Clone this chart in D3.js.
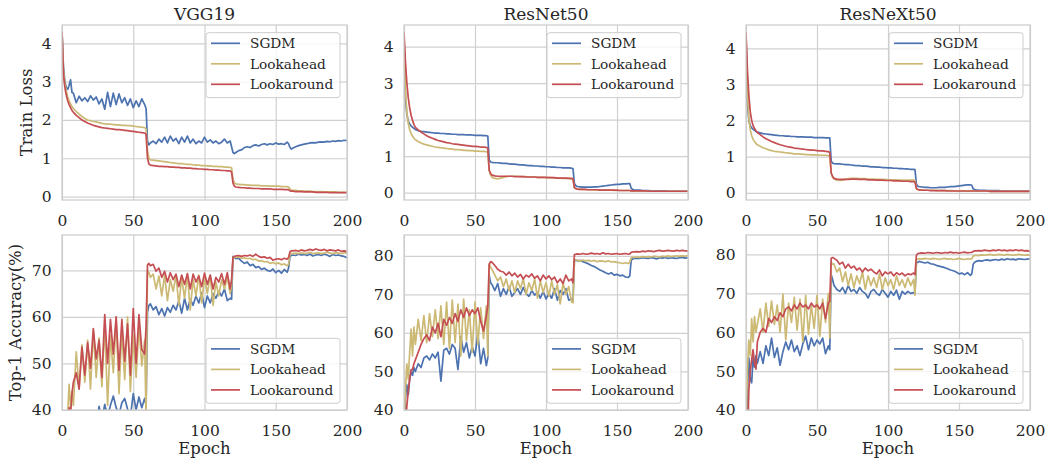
<!DOCTYPE html>
<html>
<head>
<meta charset="utf-8">
<script src="https://cdn.jsdelivr.net/npm/d3@7"></script>
<style>
  body { margin: 0; background: #fff; }
  svg { font-family: "DejaVu Serif", serif; }
</style>
</head>
<body>
<svg id="chart" width="1050" height="465"></svg>
<script>
const EPOCHS = [0,1,2,3,4,5,6,7,8,
  10,12,14,16,18,20,22,24,26,28,30,32,34,36,38,40,42,44,46,48,50,52,54,56,58,
  59,60,61,
  62,64,66,68,70,72,74,76,78,80,82,84,86,88,90,92,94,96,98,100,102,104,106,108,110,112,114,116,118,
  119,120,121,
  122,124,126,128,130,132,134,136,138,140,142,144,146,148,150,152,154,156,158,
  159,160,161,
  162,164,166,168,170,172,174,176,178,180,182,184,186,188,190,192,194,196,198,200];

const SERIES_NAMES = ["SGDM", "Lookahead", "Lookaround"];
const TITLES = ["VGG19", "ResNet50", "ResNeXt50"];
const X_TICKS = [0, 50, 100, 150, 200];
const LOSS_TICKS = [0, 1, 2, 3, 4];
const ACC_TICKS_VGG = [40, 50, 60, 70];
const ACC_TICKS = [40, 50, 60, 70, 80];

// ---- train loss ----
const vggLossSgdm = [4.30,3.40,3.00,2.85,2.80,2.90,3.05,2.72,2.70,
  2.45,2.62,2.50,2.58,2.48,2.63,2.52,2.60,2.42,2.55,2.28,2.72,2.35,2.70,2.40,2.68,2.45,2.58,2.38,2.55,2.32,2.50,2.35,2.55,2.40,
  2.30,1.45,1.35,
  1.40,1.45,1.38,1.50,1.42,1.55,1.40,1.58,1.45,1.52,1.38,1.55,1.42,1.58,1.40,1.50,1.38,1.45,1.40,1.55,1.42,1.48,1.40,1.45,1.38,1.42,1.50,1.40,1.45,
  1.30,1.15,1.12,
  1.15,1.20,1.22,1.28,1.30,1.28,1.33,1.35,1.32,1.36,1.38,1.35,1.38,1.36,1.40,1.37,1.38,1.36,1.42,
  1.38,1.28,1.24,
  1.27,1.30,1.33,1.35,1.37,1.38,1.40,1.41,1.40,1.42,1.43,1.42,1.44,1.43,1.45,1.44,1.46,1.45,1.47,1.46];
const vggLossLookahead = [4.30,3.30,2.95,2.75,2.60,2.50,2.42,2.35,2.30,
  2.22,2.15,2.09,2.04,2.00,1.98,1.96,1.95,1.93,1.91,1.90,1.89,1.89,1.88,1.87,1.87,1.86,1.86,1.85,1.85,1.84,1.83,1.82,1.81,1.80,
  1.76,1.20,1.00,
  0.96,0.95,0.94,0.93,0.92,0.91,0.90,0.89,0.88,0.87,0.86,0.86,0.85,0.84,0.84,0.83,0.82,0.82,0.81,0.81,0.80,0.80,0.79,0.79,0.78,0.78,0.77,0.77,0.76,
  0.75,0.45,0.36,
  0.33,0.32,0.31,0.31,0.30,0.30,0.29,0.29,0.29,0.28,0.28,0.28,0.27,0.27,0.27,0.27,0.26,0.26,0.26,
  0.25,0.20,0.17,
  0.16,0.16,0.15,0.15,0.14,0.14,0.14,0.13,0.13,0.13,0.13,0.12,0.12,0.12,0.12,0.12,0.11,0.11,0.11,0.11];
const vggLossLookaround = [4.30,3.20,2.85,2.65,2.50,2.40,2.32,2.25,2.20,
  2.12,2.06,2.00,1.96,1.92,1.89,1.86,1.84,1.82,1.80,1.79,1.78,1.77,1.76,1.75,1.75,1.74,1.73,1.72,1.71,1.70,1.69,1.68,1.67,1.66,
  1.62,1.00,0.85,
  0.82,0.81,0.80,0.79,0.79,0.78,0.78,0.77,0.77,0.76,0.76,0.75,0.75,0.74,0.74,0.73,0.73,0.72,0.72,0.71,0.71,0.70,0.70,0.69,0.69,0.68,0.68,0.67,0.67,
  0.64,0.35,0.27,
  0.25,0.24,0.23,0.23,0.22,0.22,0.21,0.21,0.21,0.20,0.20,0.20,0.20,0.19,0.19,0.19,0.19,0.18,0.18,
  0.18,0.15,0.14,
  0.14,0.13,0.13,0.13,0.12,0.12,0.12,0.12,0.11,0.11,0.11,0.11,0.11,0.10,0.10,0.10,0.10,0.10,0.10,0.10];

const resnetLossSgdm = [4.30,2.60,2.15,1.95,1.88,1.83,1.79,1.76,1.73,
  1.70,1.68,1.67,1.66,1.65,1.64,1.63,1.63,1.62,1.62,1.61,1.61,1.60,1.60,1.59,1.59,1.59,1.58,1.58,1.58,1.57,1.57,1.57,1.56,1.56,
  1.55,0.90,0.84,
  0.83,0.82,0.82,0.81,0.80,0.80,0.79,0.78,0.78,0.77,0.76,0.76,0.75,0.74,0.74,0.73,0.73,0.72,0.72,0.71,0.71,0.70,0.70,0.69,0.69,0.68,0.68,0.68,0.67,
  0.66,0.25,0.19,
  0.17,0.16,0.15,0.15,0.15,0.15,0.16,0.16,0.17,0.18,0.19,0.20,0.21,0.22,0.23,0.23,0.24,0.24,0.25,
  0.25,0.12,0.09,
  0.08,0.07,0.07,0.06,0.06,0.06,0.05,0.05,0.05,0.05,0.05,0.05,0.04,0.04,0.04,0.04,0.04,0.04,0.04,0.04];
const resnetLossLookahead = [4.30,2.80,2.20,1.90,1.72,1.62,1.55,1.49,1.45,
  1.40,1.36,1.33,1.31,1.29,1.27,1.25,1.24,1.23,1.22,1.21,1.20,1.19,1.18,1.18,1.17,1.16,1.16,1.15,1.15,1.14,1.14,1.13,1.13,1.12,
  1.10,0.60,0.48,
  0.42,0.39,0.38,0.40,0.42,0.44,0.45,0.45,0.45,0.45,0.44,0.44,0.44,0.43,0.43,0.43,0.42,0.42,0.42,0.41,0.41,0.41,0.40,0.40,0.40,0.39,0.39,0.39,0.38,
  0.37,0.14,0.11,
  0.10,0.09,0.09,0.08,0.08,0.08,0.08,0.07,0.07,0.07,0.07,0.07,0.07,0.06,0.06,0.06,0.06,0.06,0.06,
  0.06,0.05,0.05,
  0.05,0.05,0.05,0.05,0.05,0.04,0.04,0.04,0.04,0.04,0.04,0.04,0.04,0.04,0.04,0.04,0.04,0.04,0.04,0.04];
const resnetLossLookaround = [4.40,3.60,3.00,2.60,2.32,2.12,1.98,1.87,1.79,
  1.72,1.66,1.61,1.56,1.52,1.49,1.46,1.43,1.41,1.39,1.37,1.36,1.34,1.33,1.32,1.31,1.30,1.29,1.28,1.27,1.27,1.26,1.25,1.25,1.24,
  1.22,0.62,0.52,
  0.48,0.46,0.45,0.45,0.45,0.45,0.45,0.45,0.44,0.44,0.44,0.44,0.43,0.43,0.43,0.43,0.42,0.42,0.42,0.42,0.41,0.41,0.41,0.40,0.40,0.40,0.40,0.39,0.39,
  0.38,0.14,0.11,
  0.10,0.09,0.09,0.09,0.08,0.08,0.08,0.08,0.07,0.07,0.07,0.07,0.07,0.07,0.07,0.06,0.06,0.06,0.06,
  0.06,0.05,0.05,
  0.05,0.05,0.05,0.05,0.05,0.04,0.04,0.04,0.04,0.04,0.04,0.04,0.04,0.04,0.04,0.04,0.04,0.04,0.04,0.04];

const resnextLossSgdm = [4.40,2.50,2.00,1.86,1.80,1.76,1.73,1.70,1.68,
  1.66,1.64,1.63,1.62,1.61,1.60,1.59,1.58,1.58,1.57,1.57,1.56,1.56,1.55,1.55,1.55,1.54,1.54,1.54,1.53,1.53,1.53,1.53,1.52,1.52,
  1.52,0.88,0.82,
  0.81,0.80,0.80,0.79,0.78,0.78,0.77,0.76,0.75,0.75,0.74,0.74,0.73,0.72,0.72,0.71,0.71,0.70,0.70,0.69,0.69,0.68,0.68,0.67,0.67,0.66,0.66,0.65,0.65,
  0.64,0.24,0.18,
  0.17,0.16,0.15,0.15,0.14,0.14,0.14,0.15,0.15,0.15,0.16,0.17,0.17,0.18,0.19,0.20,0.21,0.22,0.22,
  0.21,0.11,0.09,
  0.08,0.07,0.07,0.07,0.06,0.06,0.06,0.06,0.06,0.05,0.05,0.05,0.05,0.05,0.05,0.05,0.05,0.05,0.05,0.05];
const resnextLossLookahead = [4.40,2.70,2.05,1.75,1.58,1.48,1.42,1.37,1.33,
  1.29,1.25,1.22,1.19,1.17,1.15,1.14,1.13,1.12,1.11,1.10,1.09,1.08,1.08,1.07,1.07,1.06,1.06,1.05,1.05,1.05,1.04,1.04,1.04,1.03,
  1.02,0.55,0.43,
  0.38,0.35,0.34,0.35,0.37,0.39,0.40,0.40,0.40,0.39,0.39,0.39,0.38,0.38,0.38,0.37,0.37,0.37,0.37,0.36,0.36,0.36,0.36,0.35,0.35,0.35,0.35,0.35,0.35,
  0.34,0.12,0.09,
  0.08,0.08,0.07,0.07,0.07,0.07,0.06,0.06,0.06,0.06,0.06,0.06,0.06,0.05,0.05,0.05,0.05,0.05,0.05,
  0.05,0.05,0.05,
  0.05,0.05,0.05,0.05,0.05,0.04,0.04,0.04,0.04,0.04,0.04,0.04,0.04,0.04,0.04,0.04,0.04,0.04,0.04,0.04];
const resnextLossLookaround = [4.45,3.40,2.70,2.25,2.00,1.86,1.78,1.72,1.67,
  1.61,1.55,1.50,1.46,1.42,1.39,1.36,1.33,1.31,1.29,1.27,1.26,1.24,1.23,1.22,1.21,1.20,1.19,1.18,1.18,1.17,1.16,1.16,1.15,1.14,
  1.12,0.55,0.45,
  0.40,0.38,0.37,0.37,0.37,0.37,0.38,0.38,0.38,0.37,0.37,0.37,0.36,0.36,0.36,0.35,0.35,0.35,0.34,0.34,0.34,0.33,0.33,0.33,0.32,0.32,0.32,0.31,0.31,
  0.30,0.12,0.09,
  0.08,0.07,0.07,0.07,0.06,0.06,0.06,0.06,0.06,0.06,0.05,0.05,0.05,0.05,0.05,0.05,0.05,0.05,0.05,
  0.05,0.05,0.05,
  0.05,0.05,0.05,0.05,0.05,0.04,0.04,0.04,0.04,0.04,0.04,0.04,0.04,0.04,0.04,0.04,0.04,0.04,0.04,0.04];

// ---- top-1 accuracy (%) ----
const vggAccSgdm = [10.0,15.0,18.0,20.0,22.0,23.5,25.0,26.0,27.0,
  29.0,31.0,32.0,33.0,35.0,34.0,37.0,36.0,40.8,38.0,41.2,38.5,41.0,43.0,40.5,39.0,41.5,42.5,40.2,38.5,43.5,40.0,42.8,40.5,42.5,
  41.0,61.0,62.5,
  62.8,61.5,62.2,60.5,61.8,60.2,62.0,61.0,62.5,61.5,63.5,60.8,64.0,61.5,63.8,62.5,64.5,63.0,65.2,62.0,64.5,63.0,65.0,64.0,65.5,64.5,66.0,63.5,64.0,
  63.8,73.0,72.8,
  72.5,72.6,72.0,71.5,71.8,71.0,71.3,70.6,70.8,70.2,70.5,70.0,69.8,70.3,69.5,70.0,69.4,70.2,69.6,
  70.5,73.0,73.2,
  73.3,73.2,73.5,73.3,73.4,73.2,73.5,73.1,73.3,73.4,73.2,73.5,73.3,73.0,73.4,73.2,73.3,73.1,73.0,72.7];
const vggAccLookahead = [25.0,30.0,34.0,37.0,39.5,45.5,40.5,44.0,41.0,
  52.5,44.5,54.0,46.0,55.0,44.5,57.0,47.0,55.5,45.0,58.5,41.0,56.0,48.0,59.5,43.5,57.0,46.5,60.0,44.0,56.0,47.0,58.0,49.5,55.0,
  38.0,70.0,69.5,
  68.5,69.2,66.0,68.8,64.5,69.0,63.5,68.0,65.5,69.0,62.5,68.5,64.0,69.2,61.5,68.0,64.5,69.0,63.0,68.5,65.0,69.0,62.5,67.5,64.5,68.0,66.0,68.5,65.0,
  66.5,72.8,72.9,
  72.8,72.9,72.6,72.7,72.5,72.6,72.3,72.4,72.0,72.1,71.8,71.9,71.5,71.7,71.4,71.6,71.2,71.4,71.0,
  71.3,73.5,73.6,
  73.6,73.7,73.6,73.8,73.6,73.7,73.9,73.6,73.7,73.8,73.6,73.7,73.9,73.7,73.6,73.8,73.7,73.6,73.8,73.7];
const vggAccLookaround = [20.0,27.0,32.0,36.0,38.0,40.5,39.0,43.5,46.0,
  48.0,44.5,53.5,47.5,54.5,49.0,57.5,51.0,55.0,47.0,60.5,50.0,59.5,52.0,60.0,48.5,59.5,50.5,58.5,47.5,61.8,50.0,60.5,53.0,52.0,
  58.0,71.2,71.5,
  71.0,71.3,69.8,70.5,68.5,69.8,67.5,69.5,68.0,69.2,66.5,69.0,67.0,69.3,66.0,69.2,67.5,68.8,66.5,69.4,67.0,69.0,66.0,68.5,67.5,69.3,67.0,69.5,66.0,
  68.0,72.8,73.0,
  73.1,73.2,73.0,73.2,73.1,73.3,73.0,73.5,73.0,72.8,72.9,72.6,72.8,72.2,72.4,72.5,72.3,72.6,72.4,
  72.8,74.0,74.2,
  74.2,74.3,74.1,74.4,74.2,74.3,74.5,74.3,74.6,74.4,74.3,74.5,74.2,74.4,74.3,74.2,74.4,74.1,74.2,74.0];

const resnetAccSgdm = [30.0,43.0,46.5,44.0,48.0,50.0,49.0,51.0,50.0,
  52.0,51.0,53.5,54.0,53.0,54.5,53.5,55.0,47.5,55.5,56.0,54.5,57.0,56.0,50.5,59.0,55.0,57.5,53.5,56.5,54.0,60.0,52.0,56.0,51.5,
  53.5,75.0,73.0,
  72.5,71.0,72.8,69.5,71.5,70.0,72.0,69.5,70.5,71.5,70.0,71.8,70.2,69.5,71.0,69.8,70.5,69.0,70.8,68.8,70.2,69.0,71.5,68.5,71.0,70.0,71.5,68.5,68.8,
  68.2,78.8,78.9,
  78.7,78.8,78.5,78.2,77.9,77.5,77.2,76.8,76.3,76.0,75.6,75.3,75.6,75.0,75.2,74.8,75.0,74.5,74.4,
  74.8,78.8,79.2,
  79.3,79.4,79.3,79.5,79.4,79.3,79.5,79.4,79.2,79.5,79.4,79.6,79.3,79.5,79.4,79.3,79.5,79.6,79.4,79.5];
const resnetAccLookahead = [35.0,45.0,52.0,48.0,55.0,61.0,54.0,61.5,57.0,
  63.5,58.0,64.5,57.5,65.0,59.0,66.0,58.5,67.0,57.0,68.0,56.0,68.5,57.5,67.5,54.0,68.8,58.0,66.0,55.0,68.0,57.0,66.5,58.5,67.0,
  54.0,78.0,77.0,
  76.5,75.0,73.5,74.5,72.0,74.0,71.0,73.5,70.5,73.5,71.5,74.0,70.0,73.0,71.0,74.0,69.0,73.5,70.5,73.0,69.5,73.5,70.0,72.5,67.5,73.0,70.0,72.0,68.0,
  67.8,78.7,78.8,
  78.8,78.7,78.9,78.7,78.8,78.6,78.8,78.5,78.7,78.6,78.5,78.7,78.4,78.5,78.3,78.2,78.0,78.2,78.0,
  78.3,79.5,79.6,
  79.6,79.7,79.6,79.8,79.7,79.8,79.7,79.9,79.8,79.7,79.9,79.8,80.0,79.8,79.9,80.0,79.9,80.0,79.9,80.1];
const resnetAccLookaround = [25.0,35.0,41.0,45.0,48.0,50.5,50.5,52.0,53.0,
  55.0,57.0,58.5,59.5,58.0,61.5,60.0,62.5,59.0,63.5,62.0,64.0,62.5,65.0,63.0,66.0,64.0,66.5,64.5,66.0,65.0,66.5,63.0,60.5,64.5,
  67.0,77.8,78.5,
  78.3,77.5,76.5,76.0,75.8,75.0,75.8,74.8,75.5,74.5,75.2,74.0,75.0,74.5,75.3,74.2,74.8,73.5,75.0,74.0,74.8,73.8,74.5,73.0,74.0,72.8,75.0,73.5,74.0,
  73.0,80.3,80.4,
  80.5,80.4,80.6,80.4,80.5,80.7,80.5,80.6,80.4,80.8,80.5,80.6,80.4,80.5,80.6,80.4,80.5,80.6,80.4,
  80.5,80.9,81.0,
  81.0,81.1,81.0,81.2,81.1,81.3,81.2,81.1,81.3,81.4,81.2,81.3,81.4,81.3,81.2,81.4,81.3,81.4,81.3,81.2];

const resnextAccSgdm = [30.0,45.0,53.5,48.0,47.0,53.5,51.0,54.0,52.0,
  55.0,52.0,56.5,54.0,58.5,53.5,56.0,51.5,55.0,57.5,55.5,58.0,55.0,56.5,54.0,57.0,59.0,55.5,58.5,56.5,58.0,57.0,58.5,54.5,56.5,
  55.5,74.8,73.5,
  72.0,71.0,70.5,71.5,70.0,72.0,70.5,71.0,70.0,71.5,70.5,70.0,68.8,70.5,71.0,70.0,69.5,71.0,70.0,69.0,70.5,69.5,70.8,68.5,70.5,69.8,70.5,70.0,70.2,
  70.0,77.8,78.0,
  78.2,78.0,77.8,78.0,77.6,77.5,77.2,77.0,76.8,76.6,76.3,76.0,75.8,75.5,75.0,75.2,74.8,75.3,74.6,
  75.0,77.5,78.0,
  78.2,78.4,78.3,78.5,78.6,78.4,78.6,78.7,78.5,78.8,78.6,78.9,78.7,78.8,78.6,78.9,78.8,78.7,78.8,78.9];
const resnextAccLookahead = [35.0,50.0,58.0,54.0,63.5,57.5,64.0,60.0,62.0,
  66.0,60.0,67.5,61.5,68.0,62.0,67.0,60.0,69.8,58.0,67.5,62.5,69.0,60.5,68.5,57.5,69.5,59.5,67.0,61.0,69.5,59.0,68.5,62.5,70.0,
  58.5,78.0,77.5,
  77.5,75.5,76.5,73.0,75.5,72.0,75.0,71.5,74.5,72.5,75.5,71.0,74.5,72.0,74.0,71.5,75.0,71.0,74.0,72.0,73.5,71.0,74.5,72.0,73.5,71.5,74.0,72.0,73.5,
  69.5,78.6,78.8,
  78.9,78.8,79.0,78.9,78.8,79.0,78.9,78.7,78.9,79.0,78.8,78.9,78.7,78.8,79.0,78.8,78.7,78.9,78.8,
  78.9,79.6,79.7,
  79.8,79.7,79.9,79.8,79.9,80.0,79.8,79.9,80.0,79.9,79.8,80.0,79.9,79.8,79.9,80.0,79.9,79.8,79.9,79.8];
const resnextAccLookaround = [20.0,30.0,45.0,50.0,53.0,55.5,52.0,50.5,57.5,
  60.0,61.0,60.0,63.5,62.5,64.0,63.0,65.0,64.0,66.0,66.5,65.5,67.0,66.0,67.5,66.5,67.0,66.0,67.5,66.5,67.0,66.0,67.5,63.5,67.5,
  68.0,79.0,79.2,
  79.0,78.5,77.5,78.0,76.5,77.5,76.5,77.0,76.0,76.5,75.5,76.5,75.8,76.2,75.5,75.0,76.0,74.5,75.5,75.0,75.5,74.5,75.3,74.8,75.2,74.5,75.0,74.8,75.2,
  74.8,79.8,80.2,
  80.3,80.4,80.3,80.5,80.4,80.3,80.5,80.4,80.3,80.5,80.4,80.6,80.4,80.5,80.3,80.5,80.6,80.4,80.5,
  80.5,80.8,80.9,
  80.9,81.0,80.9,81.1,81.0,80.9,81.1,81.0,81.2,81.0,81.1,80.9,81.1,81.0,81.2,81.0,81.1,80.9,81.0,80.8];

const COLORS = ["#4c72b0", "#ccb974", "#c44e52"];

// layout
const colX = [[62, 347], [404, 688], [746, 1030]];
const rowY = [[25, 200], [235, 410]];

const panels = [
  {row: 0, col: 0, dom: [-0.09, 4.48], ticks: LOSS_TICKS, series: [vggLossSgdm, vggLossLookahead, vggLossLookaround], legend: "top"},
  {row: 0, col: 1, dom: [-0.2, 4.59], ticks: LOSS_TICKS, series: [resnetLossSgdm, resnetLossLookahead, resnetLossLookaround], legend: "top"},
  {row: 0, col: 2, dom: [-0.2, 4.65], ticks: LOSS_TICKS, series: [resnextLossSgdm, resnextLossLookahead, resnextLossLookaround], legend: "top"},
  {row: 1, col: 0, dom: [40, 77.6], ticks: ACC_TICKS_VGG, series: [vggAccSgdm, vggAccLookahead, vggAccLookaround], legend: "bottom"},
  {row: 1, col: 1, dom: [40, 85.4], ticks: ACC_TICKS, series: [resnetAccSgdm, resnetAccLookahead, resnetAccLookaround], legend: "bottom"},
  {row: 1, col: 2, dom: [40, 85], ticks: ACC_TICKS, series: [resnextAccSgdm, resnextAccLookahead, resnextAccLookaround], legend: "bottom"}
];

const svg = d3.select("#chart");
const grid = "#d0d0d0";
const ink = "#262626";

panels.forEach((p, i) => {
  const [x0, x1] = colX[p.col];
  const [y0, y1] = rowY[p.row];
  const x = d3.scaleLinear().domain([0, 200]).range([x0, x1]);
  const y = d3.scaleLinear().domain(p.dom).range([y1, y0]);
  const g = svg.append("g");

  p.series.forEach((s, k) => {
    if (s.length !== EPOCHS.length) console.error("length mismatch", i, k, s.length);
  });

  // x grid + labels
  const xa = g.append("g")
    .attr("transform", "translate(0," + y1 + ")")
    .call(d3.axisBottom(x).tickValues(X_TICKS).tickSize(-(y1 - y0)).tickPadding(15).tickFormat(d3.format("d")));
  // y grid + labels
  const ya = g.append("g")
    .attr("transform", "translate(" + x0 + ",0)")
    .call(d3.axisLeft(y).tickValues(p.ticks).tickSize(-(x1 - x0)).tickPadding(10.5).tickFormat(d3.format("d")));

  [xa, ya].forEach(a => {
    a.select(".domain").remove();
    a.selectAll(".tick line").attr("stroke", grid).attr("stroke-width", 1.2);
    a.selectAll(".tick text").attr("fill", ink).style("font-size", "15.5px").style("font-family", "DejaVu Serif");
  });

  // data lines, clipped to the axes box
  const clipId = "clip" + i;
  svg.append("clipPath").attr("id", clipId)
    .append("rect").attr("x", x0).attr("y", y0).attr("width", x1 - x0).attr("height", y1 - y0);

  const line = d3.line().x(d => x(d[0])).y(d => y(d[1]));
  const lines = g.append("g").attr("clip-path", "url(#" + clipId + ")");
  p.series.forEach((s, k) => {
    lines.append("path")
      .datum(d3.zip(EPOCHS, s))
      .attr("d", line)
      .attr("fill", "none")
      .attr("stroke", COLORS[k])
      .attr("stroke-width", 1.7)
      .attr("stroke-linejoin", "round");
  });

  // frame
  g.append("rect")
    .attr("x", x0).attr("y", y0).attr("width", x1 - x0).attr("height", y1 - y0)
    .attr("fill", "none").attr("stroke", "#cccccc").attr("stroke-width", 1.25);

  // legend
  const lw = 134, lh = 65;
  const lx = x1 - 7 - lw;
  const ly = p.legend === "top" ? y0 + 7.7 : y1 - 6.7 - lh;
  const lg = g.append("g").attr("transform", "translate(" + lx + "," + ly + ")");
  lg.append("rect").attr("width", lw).attr("height", lh).attr("rx", 3)
    .attr("fill", "#fff").attr("fill-opacity", 0.8)
    .attr("stroke", "#cccccc").attr("stroke-width", 1);
  SERIES_NAMES.forEach((name, k) => {
    const cy = 10.6 + 20.5 * k;
    lg.append("line").attr("x1", 5).attr("x2", 34).attr("y1", cy).attr("y2", cy)
      .attr("stroke", COLORS[k]).attr("stroke-width", 1.7);
    lg.append("text").attr("x", 44).attr("y", cy + 4.8)
      .attr("fill", ink).style("font-size", "13.7px").text(name);
  });

  if (p.row === 0) {
    svg.append("text").attr("x", (x0 + x1) / 2).attr("y", 19.5)
      .attr("text-anchor", "middle").attr("fill", ink).style("font-size", "17px")
      .text(TITLES[p.col]);
  } else {
    svg.append("text").attr("x", (x0 + x1) / 2).attr("y", 454)
      .attr("text-anchor", "middle").attr("fill", ink).style("font-size", "16.5px")
      .text("Epoch");
  }
});

svg.append("text")
  .attr("transform", "translate(32,112.5) rotate(-90)")
  .attr("text-anchor", "middle").attr("fill", ink).style("font-size", "16.5px")
  .text("Train Loss");
svg.append("text")
  .attr("transform", "translate(20.5,322.5) rotate(-90)")
  .attr("text-anchor", "middle").attr("fill", ink).style("font-size", "16.5px")
  .text("Top-1 Accuracy(%)");
</script>
</body>
</html>
